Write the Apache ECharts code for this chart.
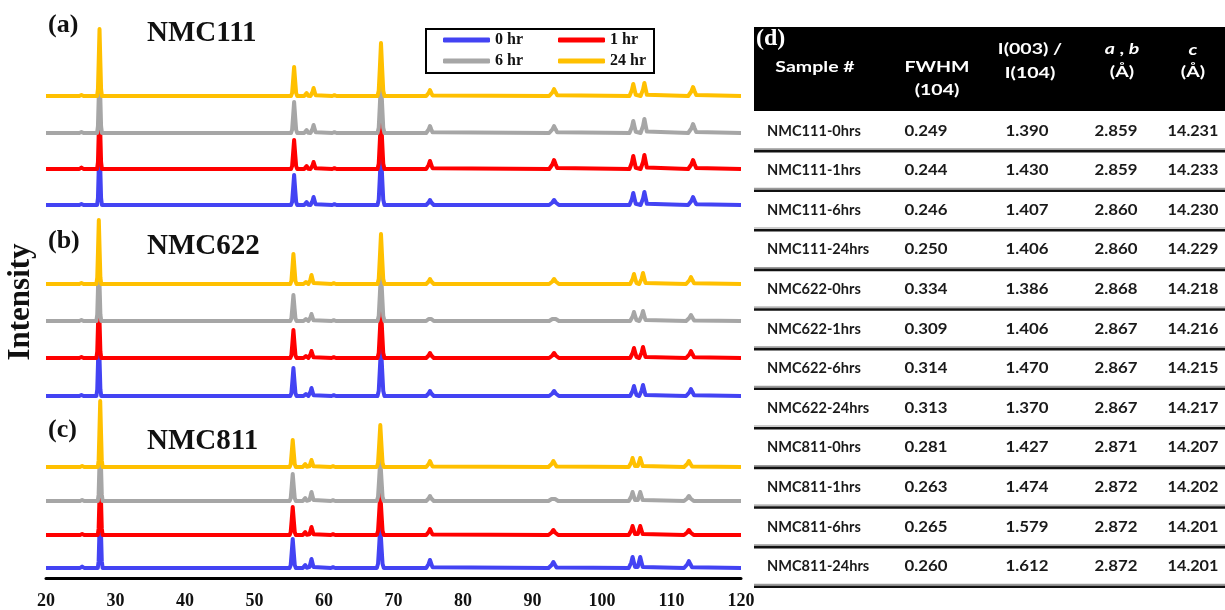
<!DOCTYPE html>
<html>
<head>
<meta charset="utf-8">
<script src="https://cdn.jsdelivr.net/npm/echarts@6/dist/echarts.min.js"></script>
<style>
  html, body { margin: 0; padding: 0; background: #fff; }
  #chart { width: 1225px; height: 610px; }
</style>
</head>
<body>
<div id="chart"></div>
<script>
// ---------------- XRD patterns ----------------
const xMin = 20, xMax = 120, xStep = 10;
const sampleTimes = ['0 hr', '1 hr', '6 hr', '24 hr'];
const materials = ['NMC111', 'NMC622', 'NMC811'];
const panelTags = ['(a)', '(b)', '(c)'];

// Reflection positions (2θ, degrees) for each material
const peaks111 = [25.1, 27.7, 55.7, 57.5, 58.5, 61.5, 68.2, 75.25, 93.1, 104.5, 106.1, 113.1];
const peaks622 = [25.1, 27.6, 55.6, 57.4, 58.2, 61.4, 68.2, 75.25, 93.1, 104.6, 105.9, 112.8];
const peaks811 = [25.2, 27.8, 55.5, 57.3, 58.2, 61.3, 68.1, 75.25, 93.0, 104.4, 105.5, 112.5];
// Half base width of each reflection (degrees)
const peakHalfWidth = [0.3, 0.35, 0.45, 0.35, 0.45, 0.3, 0.5, 0.55, 0.7, 0.55, 0.55, 0.7];

// Peak intensities (arb. units), in the order of the positions above
const nmc111_0hr  = [1, 67, 30, 3, 8, 0.8, 53, 5, 5, 12, 13, 8];
const nmc111_1hr  = [1.5, 67, 29, 3, 7, 0.8, 53, 8, 9, 13, 14, 9];
const nmc111_6hr  = [1, 67, 31, 3, 8, 0.8, 53, 7, 7, 12, 14, 9];
const nmc111_24hr = [1, 67, 29, 3, 8, 0.8, 53, 6, 7, 12, 13, 9];

const nmc622_0hr  = [1, 64, 28, 2, 8, 0.8, 50, 5, 5, 10, 11, 7];
const nmc622_1hr  = [1, 64, 28, 2, 7, 0.8, 50, 5, 5, 10, 11, 7];
const nmc622_6hr  = [1, 64, 26, 2, 7, 0.8, 50, 4, 4, 9, 10, 6];
const nmc622_24hr = [1, 64, 30, 2, 9, 0.8, 50, 5, 5, 10, 11, 7];

const nmc811_0hr  = [1.5, 66, 29, 3, 9, 0.8, 42, 8, 6, 11, 11, 7];
const nmc811_1hr  = [1, 66, 28, 3, 8, 0.8, 42, 6, 5, 9, 9, 5];
const nmc811_6hr  = [1, 66, 27, 3, 9, 0.8, 42, 5, 4, 9, 9, 5];
const nmc811_24hr = [1, 66, 27, 3, 7, 0.8, 42, 6, 6, 9, 9, 6];

// ---------------- Refinement table ----------------
const sampleNames = ['NMC111-0hrs', 'NMC111-1hrs', 'NMC111-6hrs', 'NMC111-24hrs',
                     'NMC622-0hrs', 'NMC622-1hrs', 'NMC622-6hrs', 'NMC622-24hrs',
                     'NMC811-0hrs', 'NMC811-1hrs', 'NMC811-6hrs', 'NMC811-24hrs'];
const fwhm104   = [0.249, 0.244, 0.246, 0.250, 0.334, 0.309, 0.314, 0.313, 0.281, 0.263, 0.265, 0.260];
const ratio003  = [1.390, 1.430, 1.407, 1.406, 1.386, 1.406, 1.470, 1.370, 1.427, 1.474, 1.579, 1.612];
const latticeAB = [2.859, 2.859, 2.860, 2.860, 2.868, 2.867, 2.867, 2.867, 2.871, 2.872, 2.872, 2.872];
const latticeC  = [14.231, 14.233, 14.230, 14.229, 14.218, 14.216, 14.215, 14.217, 14.207, 14.202, 14.201, 14.201];

// ---------------- presentation ----------------
const seriesColors = { '0 hr': '#4343F3', '1 hr': '#FF0000', '6 hr': '#A6A6A6', '24 hr': '#FFC000' };
const panelPeaks = [peaks111, peaks622, peaks811];
const panelHeights = [
  [nmc111_0hr, nmc111_1hr, nmc111_6hr, nmc111_24hr],
  [nmc622_0hr, nmc622_1hr, nmc622_6hr, nmc622_24hr],
  [nmc811_0hr, nmc811_1hr, nmc811_6hr, nmc811_24hr]
];
// vertical stacking offset of each trace (y-axis units)
const traceOffsets = [
  [373, 409, 445, 482],
  [182, 220, 257, 294],
  [10, 43, 77, 111]
];
// normalised peak profile used to draw each reflection
const peakProfile = [[-1, 0], [-0.65, 0.1], [-0.35, 0.5], [0, 1], [0.35, 0.5], [0.65, 0.1], [1, 0]];

function buildTrace(positions, heights, base) {
  const pts = [[xMin, base]];
  positions.forEach((p, i) => {
    const w = peakHalfWidth[i], h = heights[i];
    peakProfile.forEach(([dx, f]) => pts.push([p + dx * w, base + f * h]));
  });
  pts.push([xMax, base]);
  return pts;
}

const series = [];
[2, 1, 0].forEach(pi => {
  sampleTimes.forEach((t, si) => {
    series.push({
      name: t,
      type: 'line',
      showSymbol: false,
      clip: false,
      silent: true,
      lineStyle: { width: 4, color: seriesColors[t], join: 'round' },
      itemStyle: { color: seriesColors[t] },
      data: buildTrace(panelPeaks[pi], panelHeights[pi][si], traceOffsets[pi][si])
    });
  });
});

const serif = 'Liberation Serif';
const sans = 'Lato';

// panel captions
const captionY = [[25, 35], [241, 248], [430, 443]];
const graphics = [];
panelTags.forEach((tag, i) => {
  graphics.push({ type: 'text', left: 48, top: captionY[i][0] - 13,
    style: { text: tag, font: 'bold 26px "' + serif + '"', fill: '#111' } });
  graphics.push({ type: 'text', left: 147, top: captionY[i][1] - 16,
    style: { text: materials[i], font: 'bold 29px "' + serif + '"', fill: '#111' } });
});
// y axis title
graphics.push({ type: 'text', x: 21, y: 302, rotation: Math.PI / 2,
  style: { text: 'Intensity', font: 'bold 31px "' + serif + '"', fill: '#111',
           textAlign: 'center', textVerticalAlign: 'middle' } });
// legend frame
graphics.push({ type: 'rect', shape: { x: 426, y: 29, width: 228, height: 44 },
  style: { fill: 'none', stroke: '#000', lineWidth: 2 } });

// table
const tX = 754, tW = 471;
graphics.push({ type: 'rect', shape: { x: tX, y: 27, width: tW, height: 84 }, style: { fill: '#000' } });
graphics.push({ type: 'text', x: 756, y: 39,
  style: { text: '(d)', font: 'bold 24px "' + serif + '"', fill: '#fff', textVerticalAlign: 'middle' } });
const hdr = (text, x, y, rich) => graphics.push({ type: 'text', x, y, scaleX: 1.22,
  style: { text, font: 'bold 16px "' + sans + '"', fill: '#fff', textAlign: 'center',
           textVerticalAlign: 'middle', rich: rich || undefined } });
const italic = { i: { fontStyle: 'italic', fontWeight: 'bold', fontSize: 16, fontFamily: sans, fill: '#fff' },
                 n: { fontWeight: 'bold', fontSize: 16, fontFamily: sans, fill: '#fff' } };
hdr('Sample #', 815, 67);
hdr('FWHM', 937, 67); hdr('(104)', 937, 90);
hdr('I(003) /', 1030, 49); hdr('I(104)', 1030, 73);
hdr('{i|a}{n| , }{i|b}', 1122, 49, italic); hdr('(Å)', 1122, 72);
hdr('{i|c}', 1193, 50, italic); hdr('(Å)', 1193, 72);

const rowTop = 111, rowH = 39.6;
const colX = [926, 1027, 1116, 1193];
sampleNames.forEach((name, r) => {
  const cy = rowTop + rowH * (r + 0.5);
  const cell = (text, x, align, sx) => graphics.push({ type: 'text', x, y: cy, scaleX: sx,
    style: { text, font: 'bold 15px "' + sans + '"', fill: '#1a1a1a',
             textAlign: align, textVerticalAlign: 'middle' } });
  cell(name, 767, 'left', 0.97);
  cell(fwhm104[r].toFixed(3), colX[0], 'center', 1.12);
  cell(ratio003[r].toFixed(3), colX[1], 'center', 1.12);
  cell(latticeAB[r].toFixed(3), colX[2], 'center', 1.12);
  cell(latticeC[r].toFixed(3), colX[3], 'center', 1.08);
  const ly = rowTop + rowH * (r + 1);
  graphics.push({ type: 'line', shape: { x1: tX, y1: ly - 1.8, x2: tX + tW, y2: ly - 1.8 },
    style: { stroke: '#9a9a9a', lineWidth: 1.2 } });
  graphics.push({ type: 'line', shape: { x1: tX, y1: ly + 0.5, x2: tX + tW, y2: ly + 0.5 },
    style: { stroke: '#111', lineWidth: 2.6 } });
});

const legendCommon = {
  selectedMode: false, icon: 'roundRect', itemWidth: 47, itemHeight: 5, itemGap: 35,
  padding: 0, left: 443,
  textStyle: { fontFamily: serif, fontWeight: 'bold', fontSize: 16, color: '#111' }
};

const chart = echarts.init(document.getElementById('chart'), null, { renderer: 'canvas' });
chart.setOption({
  animation: false,
  backgroundColor: '#fff',
  grid: { left: 46, right: 484, top: 10, bottom: 32 },
  legend: [
    Object.assign({}, legendCommon, { top: 32, data: ['0 hr', '1 hr'] }),
    Object.assign({}, legendCommon, { top: 53, data: ['6 hr', '24 hr'] })
  ],
  xAxis: {
    type: 'value', min: xMin, max: xMax, interval: xStep,
    axisLine: { lineStyle: { color: '#000', width: 3 } },
    axisTick: { show: false },
    splitLine: { show: false },
    axisLabel: { fontFamily: serif, fontWeight: 'bold', fontSize: 18, color: '#111', margin: 14 }
  },
  yAxis: { type: 'value', min: 0, max: 568, show: false },
  series,
  graphic: graphics
});
</script>
</body>
</html>
